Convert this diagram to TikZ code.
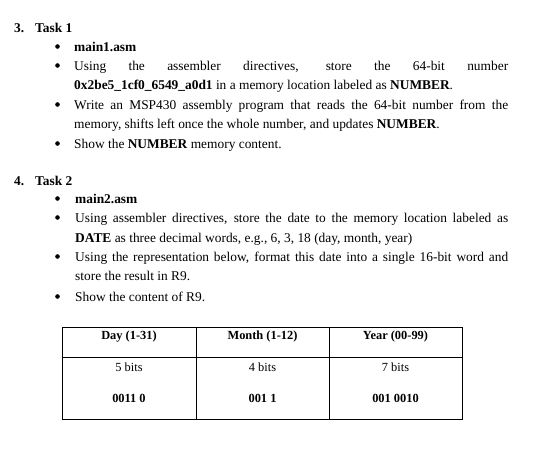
\documentclass[tikz,border=0pt]{standalone}
\usepackage{fontspec}
\setmainfont{Liberation Serif}
\begin{document}
\begin{tikzpicture}[x=1pt,y=-1pt,
  txt/.style={anchor=base west,inner sep=0pt,font=\fontsize{13.4}{15}\selectfont},
  bul/.style={circle,fill=black,inner sep=0pt,minimum size=4.6pt},
  cell/.style={anchor=base,inner sep=0pt,font=\fontsize{12.4}{14}\selectfont},
  grid/.style={draw=black,line width=1pt}]
\useasboundingbox (0,0) rectangle (535,451);
\def\W{434pt}
\def\V{433pt}
% Task 1
\node[txt] (n3) at (14,32) {\textbf{3.}};
\node[txt] (t1) at (35,32) {\textbf{Task 1}};
\node[bul] (b1) at (57.5,46.5) {};
\node[txt] (l1) at (74,51) {\textbf{main1.asm}};
\node[bul] (b2) at (57.5,65.5) {};
\node[txt] (l2) at (74,70) {\makebox[\W][s]{Using the assembler directives, store the 64-bit number}};
\node[txt] (l3) at (74,89) {\textbf{0x2be5\_1cf0\_6549\_a0d1} in a memory location labeled as \textbf{NUMBER}.};
\node[bul] (b3) at (57.5,104.5) {};
\node[txt] (l4) at (74,109) {\makebox[\W][s]{Write an MSP430 assembly program that reads the 64-bit number from the}};
\node[txt] (l5) at (74,128) {memory, shifts left once the whole number, and updates \textbf{NUMBER}.};
\node[bul] (b4) at (57.5,143.5) {};
\node[txt] (l6) at (74,148) {Show the \textbf{NUMBER} memory content.};
% Task 2
\node[txt] (n4) at (14,185) {\textbf{4.}};
\node[txt] (t2) at (35,185) {\textbf{Task 2}};
\node[bul] (c1) at (57.5,198.5) {};
\node[txt] (m1) at (75,203) {\textbf{main2.asm}};
\node[bul] (c2) at (57.5,217.5) {};
\node[txt] (m2) at (75,222) {\makebox[\V][s]{Using assembler directives, store the date to the memory location labeled as}};
\node[txt] (m3) at (75,242) {\textbf{DATE} as three decimal words, e.g., 6, 3, 18 (day, month, year)};
\node[bul] (c3) at (57.5,256.5) {};
\node[txt] (m4) at (75,261) {\makebox[\V][s]{Using the representation below, format this date into a single 16-bit word and}};
\node[txt] (m5) at (75,280) {store the result in R9.};
\node[bul] (c4) at (57.5,296.5) {};
\node[txt] (m6) at (75,301) {Show the content of R9.};
% Table
\draw[grid] (62,327) rectangle (462,419);
\draw[grid] (62,357) -- (462,357);
\draw[grid] (196,327) -- (196,419);
\draw[grid] (329,327) -- (329,419);
\node[cell] (h1) at (129,339) {\textbf{Day (1-31)}};
\node[cell] (h2) at (262.5,339) {\textbf{Month (1-12)}};
\node[cell] (h3) at (395.5,339) {\textbf{Year (00-99)}};
\node[cell] (s1) at (129,371) {5 bits};
\node[cell] (s2) at (262.5,371) {4 bits};
\node[cell] (s3) at (395.5,371) {7 bits};
\node[cell] (v1) at (129,402) {\textbf{0011 0}};
\node[cell] (v2) at (262.5,402) {\textbf{001 1}};
\node[cell] (v3) at (395.5,402) {\textbf{001 0010}};
\end{tikzpicture}
\end{document}
